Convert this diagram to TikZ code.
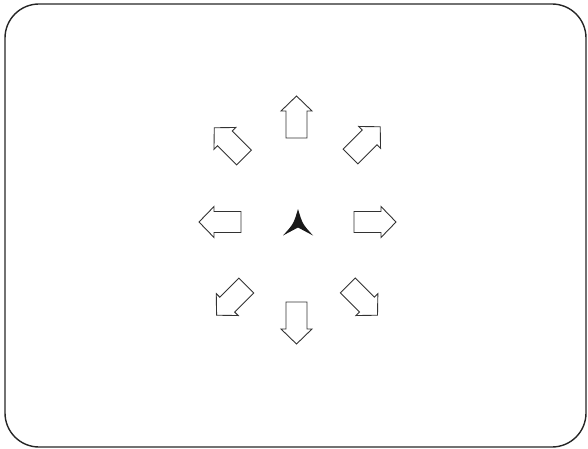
\documentclass[tikz,border=0pt]{standalone}
\usepackage{tikz}
\usetikzlibrary{arrows.meta}

\begin{document}
\begin{tikzpicture}[x=1pt,y=-1pt,
    frameline/.style={line width=1.4pt,black!85},
    hollowarrow/.style={line width=0.9pt,black!80,fill=white,line join=miter},
    outarrow/.pic={
      \draw[hollowarrow] (0,-10.5) -- (27,-10.5) -- (27,-15.5) -- (42,0)
        -- (27,15.5) -- (27,10.5) -- (0,10.5) -- cycle;
    }]
  \useasboundingbox (0,0) rectangle (588,449);
  % Screen frame
  \draw[frameline,rounded corners=34pt] (5,4) rectangle (586,447);
  % Pointer in the middle
  \fill[black!90] (298,209) .. controls (293.5,224) .. (283,235.5)
    -- (298,227.5) -- (313,235.5) .. controls (302.5,224) .. (298,209) -- cycle;
  % Straight directions
  \pic[rotate=90]  at (296.5,138) {outarrow};
  \pic[rotate=270] at (296.5,302) {outarrow};
  \pic[rotate=180] at (241,222)   {outarrow};
  \pic[rotate=0]   at (354,222)   {outarrow};
  % Diagonal directions
  \pic[rotate=135] at (244,157.5)   {outarrow};
  \pic[rotate=45]  at (350.5,156.5) {outarrow};
  \pic[rotate=225] at (246.3,285.5) {outarrow};
  \pic[rotate=315] at (347.8,285.5) {outarrow};
\end{tikzpicture}
\end{document}
